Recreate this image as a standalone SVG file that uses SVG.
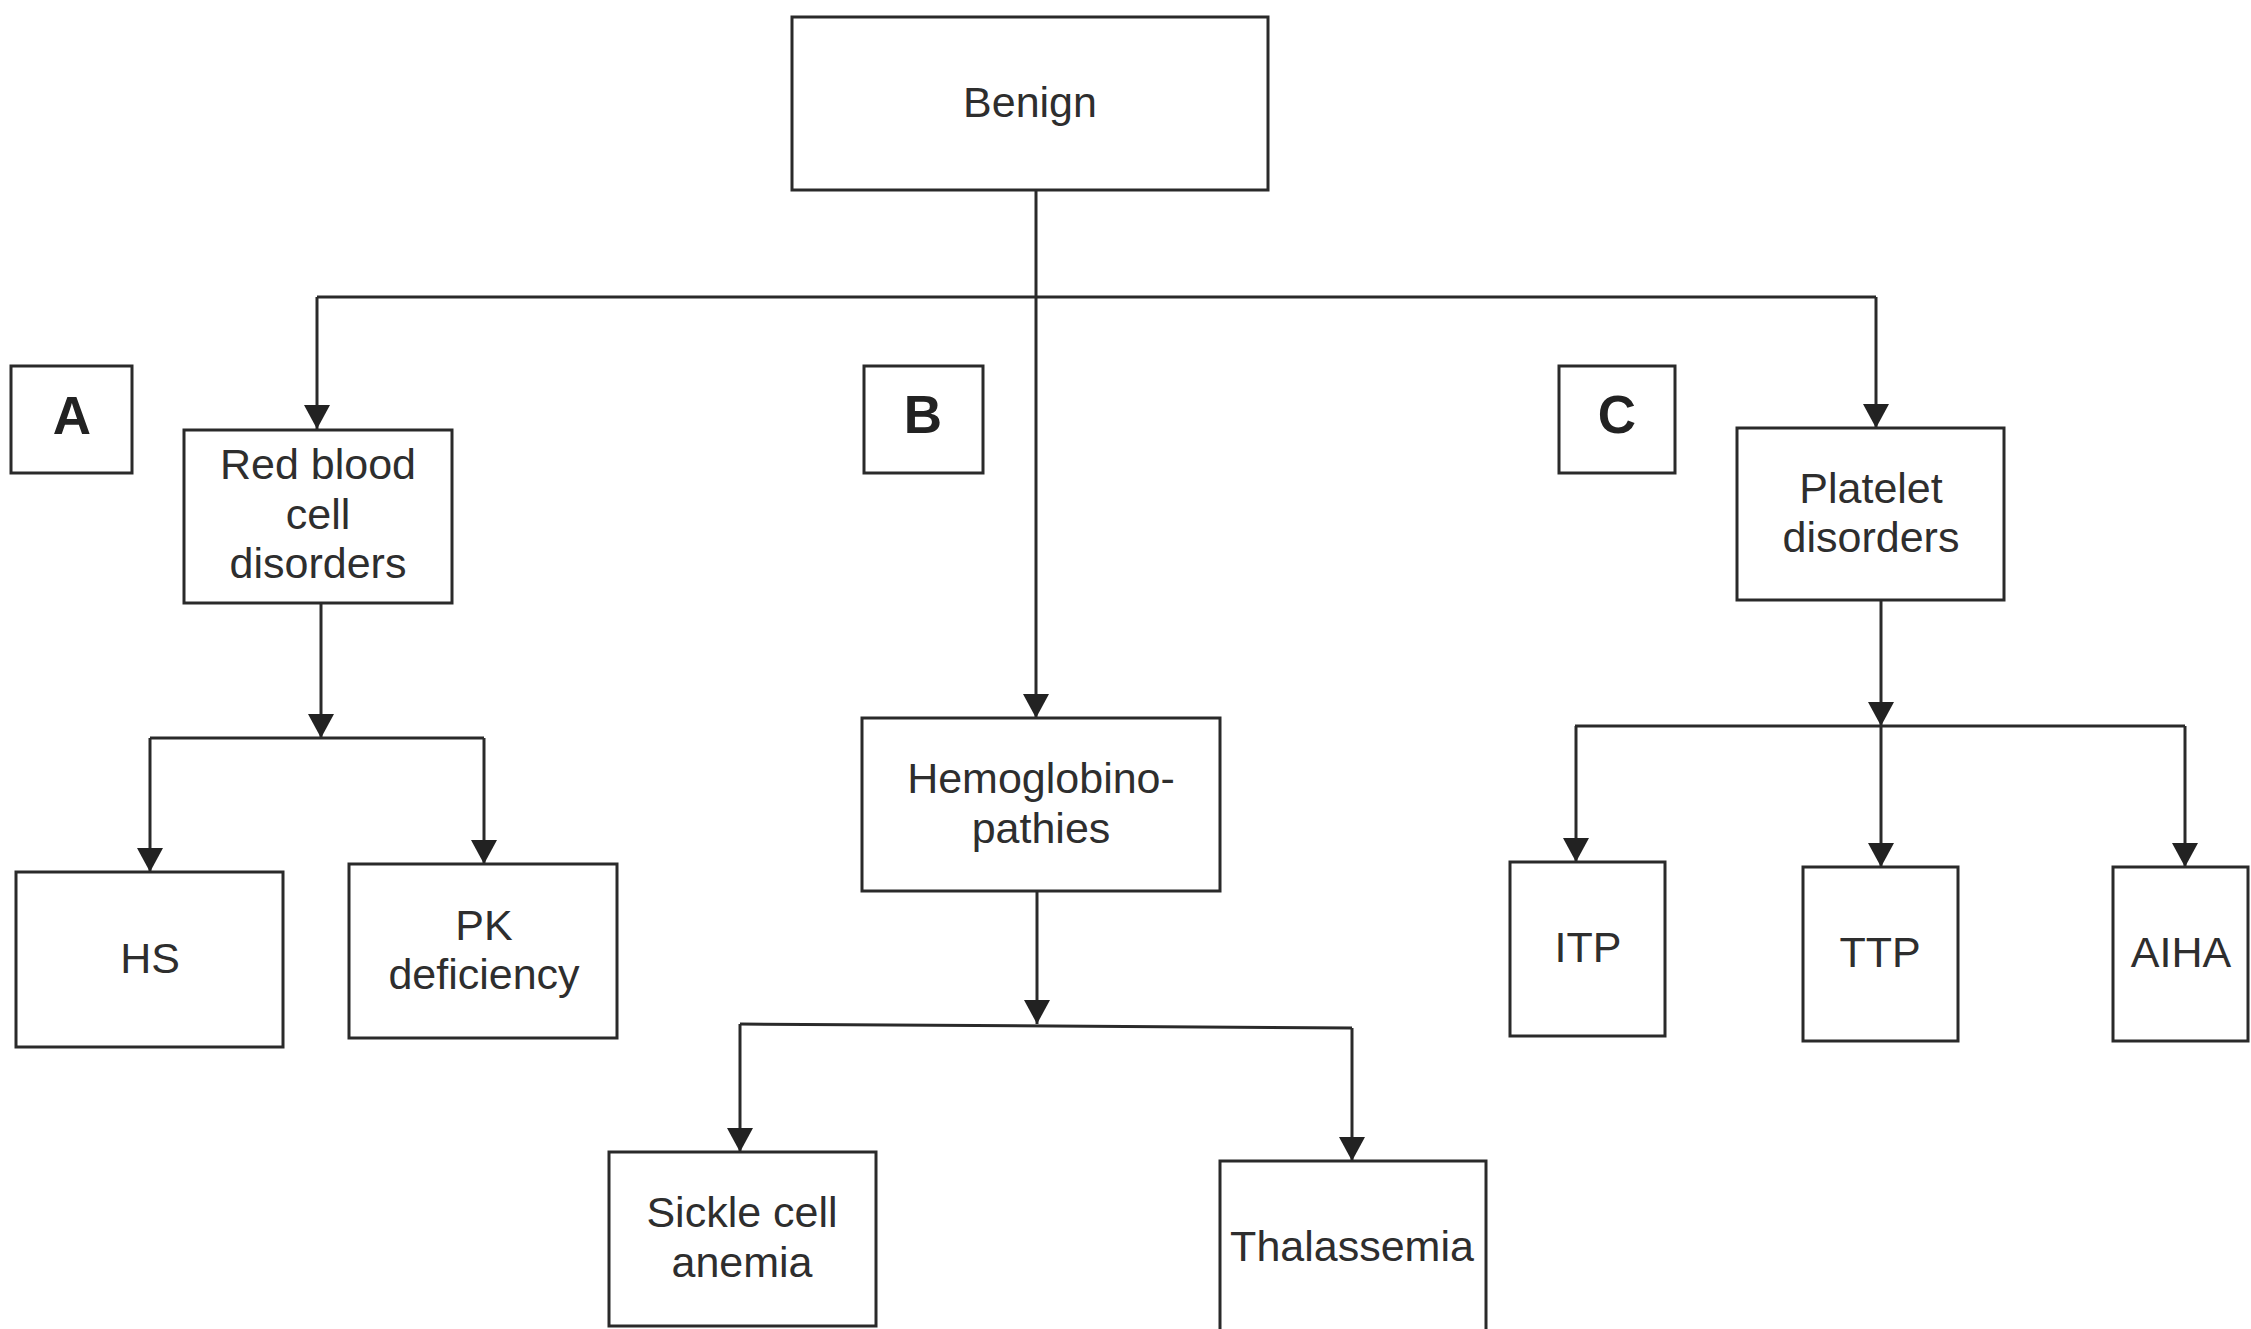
<svg xmlns="http://www.w3.org/2000/svg" width="2251" height="1329" viewBox="0 0 2251 1329">
<defs>
<style>
.box{fill:#fff;stroke:#2a2a2a;stroke-width:3}
.t{font-family:"Liberation Sans",Arial,sans-serif;font-size:43px;fill:#2e2e2e;text-anchor:middle}
.lb{font-family:"Liberation Sans",Arial,sans-serif;font-size:53px;font-weight:bold;fill:#222;text-anchor:middle}
.c{fill:none;stroke:#2a2a2a;stroke-width:3}
.a{marker-end:url(#ah)}
</style>
<marker id="ah" viewBox="0 0 24 26" markerWidth="24" markerHeight="26" refX="24" refY="13" orient="auto" markerUnits="userSpaceOnUse">
<path d="M0,0 L24,13 L0,26 Z" fill="#222"/>
</marker>
</defs>
<rect width="2251" height="1329" fill="#fff"/>
<g id="connectors">
<path class="c" d="M1036,190 V297 M317,297 H1876"/>
<path class="c a" d="M317,297 V429"/>
<path class="c a" d="M1876,297 V428"/>
<path class="c a" d="M1036,297 V718"/>
<path class="c a" d="M321,603 V738"/>
<path class="c" d="M150,738 H484"/>
<path class="c a" d="M150,738 V872"/>
<path class="c a" d="M484,738 V864"/>
<path class="c a" d="M1037,891 V1024"/>
<path class="c" d="M740,1024 L1352,1028"/>
<path class="c a" d="M740,1024 V1152"/>
<path class="c a" d="M1352,1028 V1161"/>
<path class="c a" d="M1881,600 V726"/>
<path class="c" d="M1575,726 H2185"/>
<path class="c a" d="M1576,726 V862"/>
<path class="c a" d="M1881,726 V867"/>
<path class="c a" d="M2185,726 V867"/>
</g>
<g id="benign"><rect class="box" x="792" y="17" width="476" height="173"/><text class="t" x="1030" y="117">Benign</text></g>
<g id="labelA"><rect class="box" x="11" y="366" width="121" height="107"/><text class="lb" x="72" y="434">A</text></g>
<g id="labelB"><rect class="box" x="864" y="366" width="119" height="107"/><text class="lb" x="923" y="433">B</text></g>
<g id="labelC"><rect class="box" x="1559" y="366" width="116" height="107"/><text class="lb" x="1617" y="433">C</text></g>
<g id="rbc"><rect class="box" x="184" y="430" width="268" height="173"/><text class="t" x="318" y="479">Red blood</text><text class="t" x="318" y="529">cell</text><text class="t" x="318" y="578">disorders</text></g>
<g id="hs"><rect class="box" x="16" y="872" width="267" height="175"/><text class="t" x="150" y="973">HS</text></g>
<g id="pk"><rect class="box" x="349" y="864" width="268" height="174"/><text class="t" x="484" y="940">PK</text><text class="t" x="484" y="989">deficiency</text></g>
<g id="hemo"><rect class="box" x="862" y="718" width="358" height="173"/><text class="t" x="1041" y="793">Hemoglobino-</text><text class="t" x="1041" y="843">pathies</text></g>
<g id="sickle"><rect class="box" x="609" y="1152" width="267" height="174"/><text class="t" x="742" y="1227">Sickle cell</text><text class="t" x="742" y="1277">anemia</text></g>
<g id="thal"><rect class="box" x="1220" y="1161" width="266" height="190"/><text class="t" x="1352" y="1261">Thalassemia</text></g>
<g id="platelet"><rect class="box" x="1737" y="428" width="267" height="172"/><text class="t" x="1871" y="503">Platelet</text><text class="t" x="1871" y="552">disorders</text></g>
<g id="itp"><rect class="box" x="1510" y="862" width="155" height="174"/><text class="t" x="1588" y="962">ITP</text></g>
<g id="ttp"><rect class="box" x="1803" y="867" width="155" height="174"/><text class="t" x="1880" y="967">TTP</text></g>
<g id="aiha"><rect class="box" x="2113" y="867" width="135" height="174"/><text class="t" x="2181" y="967">AIHA</text></g>
</svg>
